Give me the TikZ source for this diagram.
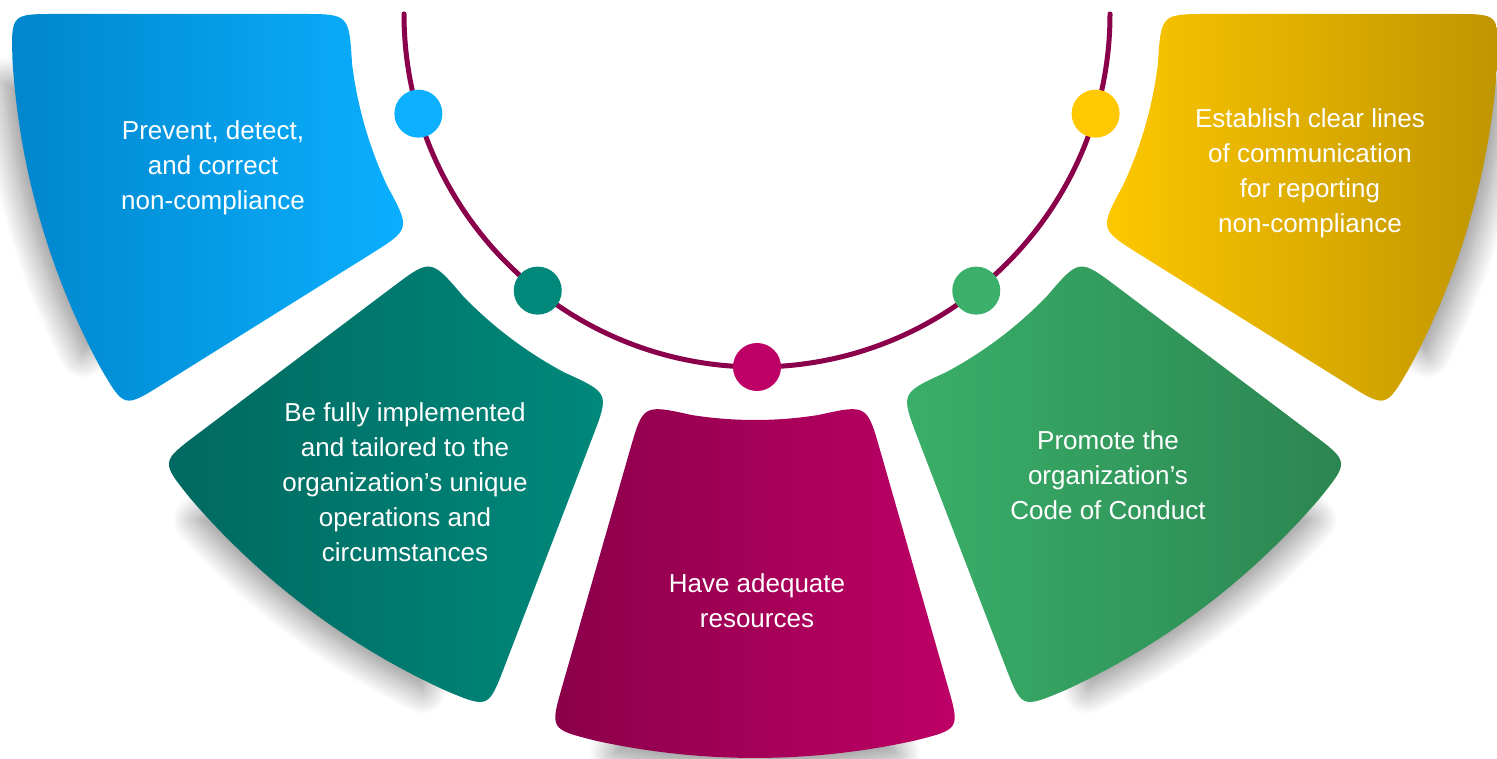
\documentclass[tikz,border=0pt]{standalone}
\usepackage{fontspec}
\setmainfont{Liberation Sans}
\usetikzlibrary{shadows.blur}

\definecolor{blueL}{RGB}{0,134,204}
\definecolor{blueR}{RGB}{11,176,255}
\definecolor{tealL}{RGB}{0,104,96}
\definecolor{tealR}{RGB}{0,137,123}
\definecolor{magL}{RGB}{138,0,73}
\definecolor{magR}{RGB}{190,0,102}
\definecolor{greenL}{RGB}{58,176,106}
\definecolor{greenR}{RGB}{43,133,80}
\definecolor{yelL}{RGB}{255,200,0}
\definecolor{yelR}{RGB}{191,149,0}
\definecolor{ringcol}{RGB}{139,0,75}

\newcommand{\petalfont}{\fontsize{26}{35}\selectfont}
\newcommand{\rin}{406}
\newcommand{\rout}{744}
\newcommand{\rring}{353}
% one petal: ring sector from #1 to #1+32 degrees, corners rounded
\newcommand{\petalpath}[1]{%
    ({#1+7}:\rin) arc[start angle=#1+7, end angle=#1+25, radius=\rin]
    .. controls ({#1+32}:\rin) .. ({#1+32}:{\rin+48})
    -- ({#1+32}:{\rout-45})
    .. controls ({#1+32}:\rout) .. ({#1+28.4}:\rout)
    arc[start angle=#1+28.4, end angle=#1+3.6, radius=\rout]
    .. controls (#1:\rout) .. (#1:{\rout-45})
    -- (#1:{\rin+48})
    .. controls (#1:\rin) .. ({#1+7}:\rin) -- cycle}
% band along the outer edge of a petal, for its shadow
\newcommand{\rimpath}[1]{%
    ({#1+5}:{\rout-90}) arc[start angle=#1+5, end angle=#1+27, radius=\rout-90]
    -- ({#1+27}:\rout) arc[start angle=#1+27, end angle=#1+5, radius=\rout] -- cycle}

\tikzset{
    petaltext/.style={text=white, align=center, font=\petalfont, inner sep=0pt},
    ringdot/.style={circle, minimum size=48pt, inner sep=0pt},
    ring/.style={draw=ringcol, line width=5pt, line cap=round},
}

\begin{document}
\begin{tikzpicture}[x=1pt, y=1pt]
    \useasboundingbox (0,0) rectangle (1497,759);

    % petals
    \begin{scope}[shift={(755,745)}]
        \foreach \a in {180,217,254,291,328} {
            \pgfmathsetmacro\sx{10*cos(\a+16)}
            \pgfmathsetmacro\sy{10*sin(\a+16)}
            \path[blur shadow={shadow xshift=\sx pt, shadow yshift=\sy pt,
                shadow blur radius=24pt, shadow opacity=45, shadow blur steps=20}] \rimpath{\a};
        }
        \foreach \a/\lc/\rc in {180/blueL/blueR, 217/tealL/tealR, 254/magL/magR,
                                291/greenL/greenR, 328/yelL/yelR} {
            \path[left color=\lc, right color=\rc] \petalpath{\a};
        }
    \end{scope}

    % ring with dots
    \begin{scope}[shift={(757,745)}]
        \draw[ring] (180:\rring) arc[start angle=180, end angle=360, radius=\rring];
        \node[ringdot, fill=blueR] (dotprevent) at (196.4:\rring) {};
        \node[ringdot, fill=tealR] (dottailored) at (231.6:\rring) {};
        \node[ringdot, fill=magR] (dotresources) at (270:\rring) {};
        \node[ringdot, fill=greenL] (dotconduct) at (308.4:\rring) {};
        \node[ringdot, fill=yelL] (dotreporting) at (343.6:\rring) {};
    \end{scope}

    % texts
    \node[petaltext] (prevent) at (213,591) {Prevent, detect,\\and correct\\non-compliance};
    \node[petaltext] (tailored) at (405,277) {Be fully implemented\\and tailored to the\\organization’s unique\\operations and\\circumstances};
    \node[petaltext] (resources) at (757,158) {Have adequate\\resources};
    \node[petaltext] (conduct) at (1108,284) {Promote the\\organization’s\\Code of Conduct};
    \node[petaltext] (reporting) at (1310,586) {Establish clear lines\\of communication\\for reporting\\non-compliance};
\end{tikzpicture}
\end{document}
